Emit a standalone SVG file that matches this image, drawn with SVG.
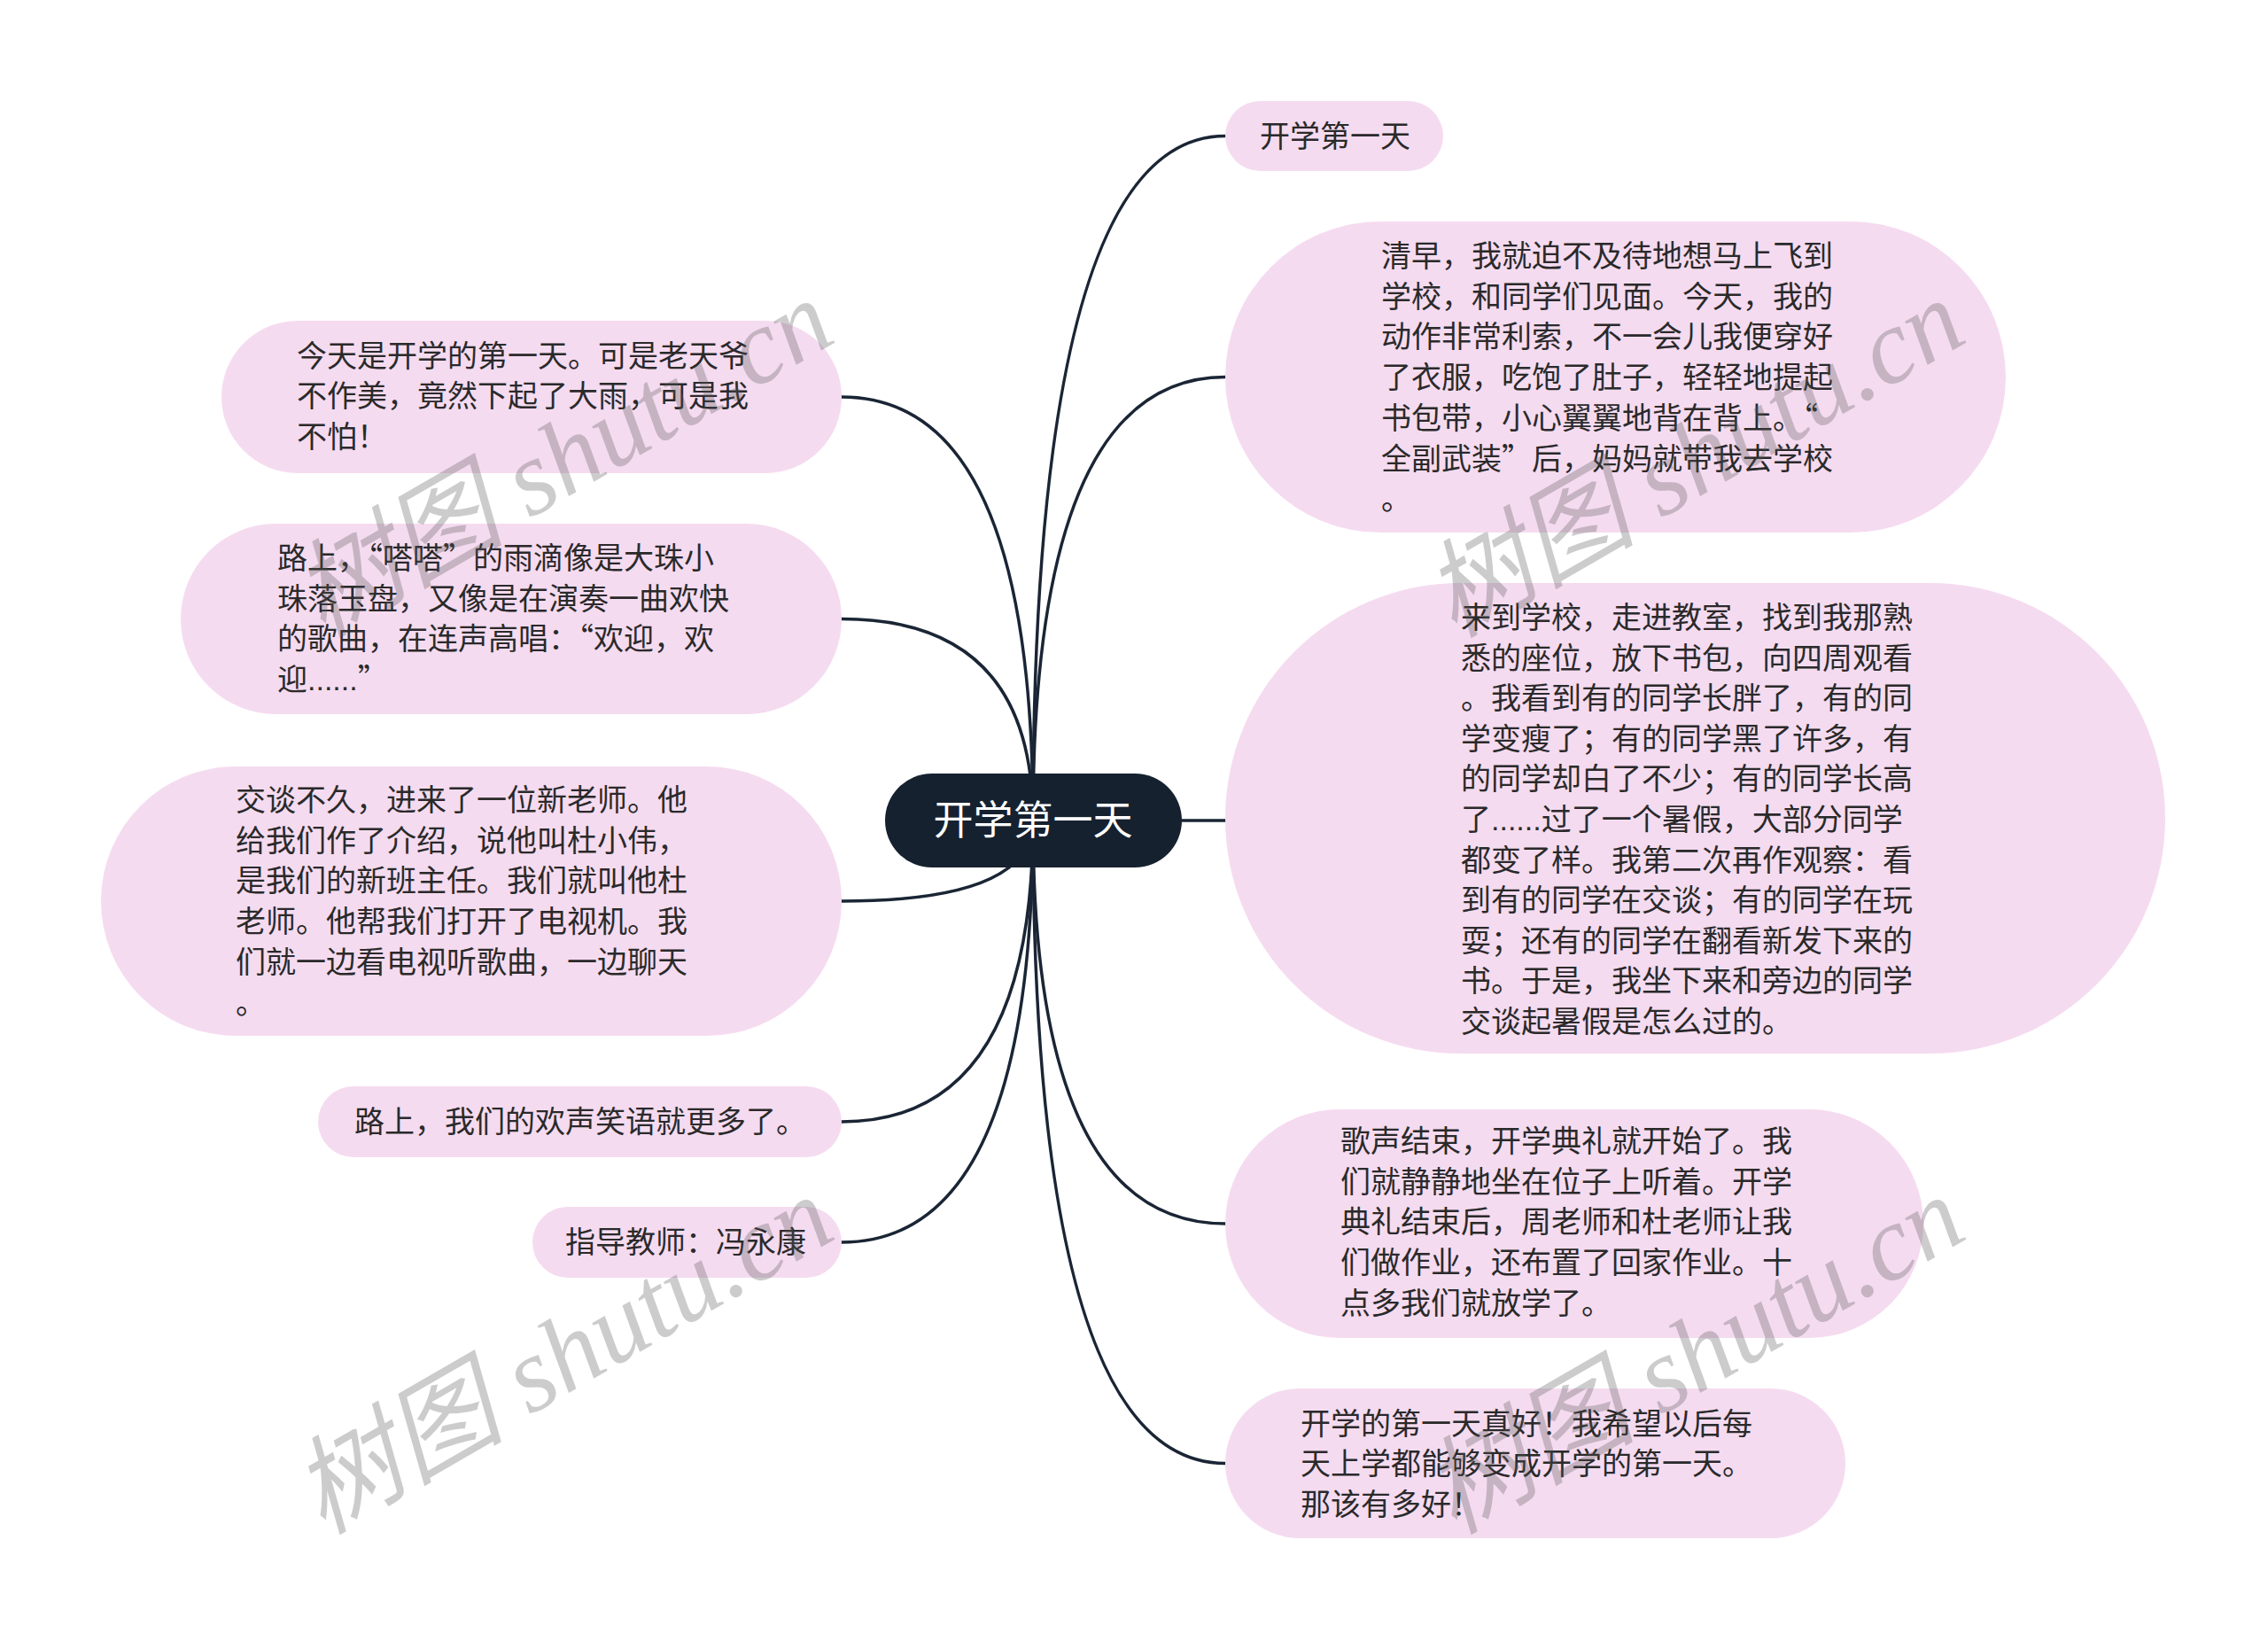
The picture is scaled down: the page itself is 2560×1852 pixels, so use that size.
<svg xmlns="http://www.w3.org/2000/svg" width="2560" height="1852" viewBox="0 0 2560 1852">
<style>
.node{fill:#f5dbf0}
.t{font-family:"Liberation Sans","Noto Sans CJK SC",sans-serif;font-size:34px;fill:#2a2a2a}
.q{font-family:"Noto Sans CJK SC","Noto Sans CJK JP",sans-serif}
.root{fill:#16212f}
.rt{font-family:"Liberation Sans","Noto Sans CJK SC",sans-serif;font-size:45px;fill:#ffffff}
.c{fill:none;stroke:#1a2535;stroke-width:3.5;stroke-linecap:round}
.wm{font-family:"Liberation Serif","Noto Sans CJK SC",serif;font-style:italic;font-size:120px;fill:#555;fill-opacity:0.3}
</style>
<rect width="2560" height="1852" fill="#ffffff"/>
<g id="connectors">
<path class="c" d="M1166 926 Q1166 153.5 1383 153.5"/>
<path class="c" d="M1166 926 Q1166 425.5 1383 425.5"/>
<path class="c" d="M1166 926 L1383 926"/>
<path class="c" d="M1166 926 Q1166 1381 1383 1381"/>
<path class="c" d="M1166 926 Q1166 1651.5 1383 1651.5"/>
<path class="c" d="M1166 926 Q1166 448 950 448"/>
<path class="c" d="M1166 926 Q1166 698.5 950 698.5"/>
<path class="c" d="M1166 926 Q1166 1017 950 1017"/>
<path class="c" d="M1166 926 Q1166 1266 950 1266"/>
<path class="c" d="M1166 926 Q1166 1402 950 1402"/>
</g>
<g id="root">
<rect class="root" x="999" y="873" width="335" height="106" rx="53"/>
<text class="rt" x="1166" y="942" text-anchor="middle">开学第一天</text>
</g>
<g id="r1">
<rect class="node" x="1383" y="114" width="246" height="79" rx="39.5"/>
<text class="t" x="1422" y="165.5">开学第一天</text>
</g>
<g id="r2">
<rect class="node" x="1383" y="250" width="881" height="351" rx="175.5"/>
<text class="t" x="1559" y="301"><tspan x="1559">清早，我就迫不及待地想马上飞到</tspan><tspan x="1559" dy="45.7">学校，和同学们见面。今天，我的</tspan><tspan x="1559" dy="45.7">动作非常利索，不一会儿我便穿好</tspan><tspan x="1559" dy="45.7">了衣服，吃饱了肚子，轻轻地提起</tspan><tspan x="1559" dy="45.7">书包带，小心翼翼地背在背上。<tspan class="q">“</tspan></tspan><tspan x="1559" dy="45.7">全副武装<tspan class="q">”</tspan>后，妈妈就带我去学校</tspan><tspan x="1559" dy="45.7">。</tspan></text>
</g>
<g id="r3">
<rect class="node" x="1383" y="658" width="1061" height="531" rx="265.5"/>
<text class="t" x="1649" y="709"><tspan x="1649">来到学校，走进教室，找到我那熟</tspan><tspan x="1649" dy="45.6">悉的座位，放下书包，向四周观看</tspan><tspan x="1649" dy="45.6">。我看到有的同学长胖了，有的同</tspan><tspan x="1649" dy="45.6">学变瘦了；有的同学黑了许多，有</tspan><tspan x="1649" dy="45.6">的同学却白了不少；有的同学长高</tspan><tspan x="1649" dy="45.6">了......过了一个暑假，大部分同学</tspan><tspan x="1649" dy="45.6">都变了样。我第二次再作观察：看</tspan><tspan x="1649" dy="45.6">到有的同学在交谈；有的同学在玩</tspan><tspan x="1649" dy="45.6">耍；还有的同学在翻看新发下来的</tspan><tspan x="1649" dy="45.6">书。于是，我坐下来和旁边的同学</tspan><tspan x="1649" dy="45.6">交谈起暑假是怎么过的。</tspan></text>
</g>
<g id="r4">
<rect class="node" x="1383" y="1252" width="788" height="258" rx="129"/>
<text class="t" x="1513" y="1300"><tspan x="1513">歌声结束，开学典礼就开始了。我</tspan><tspan x="1513" dy="45.7">们就静静地坐在位子上听着。开学</tspan><tspan x="1513" dy="45.7">典礼结束后，周老师和杜老师让我</tspan><tspan x="1513" dy="45.7">们做作业，还布置了回家作业。十</tspan><tspan x="1513" dy="45.7">点多我们就放学了。</tspan></text>
</g>
<g id="r5">
<rect class="node" x="1383" y="1567" width="700" height="169" rx="84.5"/>
<text class="t" x="1468" y="1618.5"><tspan x="1468">开学的第一天真好！我希望以后每</tspan><tspan x="1468" dy="45.7">天上学都能够变成开学的第一天。</tspan><tspan x="1468" dy="45.7">那该有多好！</tspan></text>
</g>
<g id="l1">
<rect class="node" x="250" y="362" width="700" height="172" rx="86"/>
<text class="t" x="335" y="413.6"><tspan x="335">今天是开学的第一天。可是老天爷</tspan><tspan x="335" dy="45.7">不作美，竟然下起了大雨，可是我</tspan><tspan x="335" dy="45.7">不怕！</tspan></text>
</g>
<g id="l2">
<rect class="node" x="204" y="591" width="746" height="215" rx="107.5"/>
<text class="t" x="313" y="642"><tspan x="313">路上，<tspan class="q">“</tspan>嗒嗒<tspan class="q">”</tspan>的雨滴像是大珠小</tspan><tspan x="313" dy="45.7">珠落玉盘，又像是在演奏一曲欢快</tspan><tspan x="313" dy="45.7">的歌曲，在连声高唱：<tspan class="q">“</tspan>欢迎，欢</tspan><tspan x="313" dy="45.7">迎......<tspan class="q">”</tspan></tspan></text>
</g>
<g id="l3">
<rect class="node" x="114" y="865" width="836" height="304" rx="152"/>
<text class="t" x="266" y="915"><tspan x="266">交谈不久，进来了一位新老师。他</tspan><tspan x="266" dy="45.7">给我们作了介绍，说他叫杜小伟，</tspan><tspan x="266" dy="45.7">是我们的新班主任。我们就叫他杜</tspan><tspan x="266" dy="45.7">老师。他帮我们打开了电视机。我</tspan><tspan x="266" dy="45.7">们就一边看电视听歌曲，一边聊天</tspan><tspan x="266" dy="45.7">。</tspan></text>
</g>
<g id="l4">
<rect class="node" x="359" y="1226" width="591" height="80" rx="40"/>
<text class="t" x="400" y="1278">路上，我们的欢声笑语就更多了。</text>
</g>
<g id="l5">
<rect class="node" x="601" y="1362" width="349" height="80" rx="40"/>
<text class="t" x="638" y="1414">指导教师：冯永康</text>
</g>
<g id="watermark">
<text class="wm" x="947" y="384" text-anchor="end" transform="rotate(-30 947 384)">树图 shutu.cn</text>
<text class="wm" x="2224" y="384" text-anchor="end" transform="rotate(-30 2224 384)">树图 shutu.cn</text>
<text class="wm" x="947" y="1396" text-anchor="end" transform="rotate(-30 947 1396)">树图 shutu.cn</text>
<text class="wm" x="2224" y="1396" text-anchor="end" transform="rotate(-30 2224 1396)">树图 shutu.cn</text>
</g>
</svg>
